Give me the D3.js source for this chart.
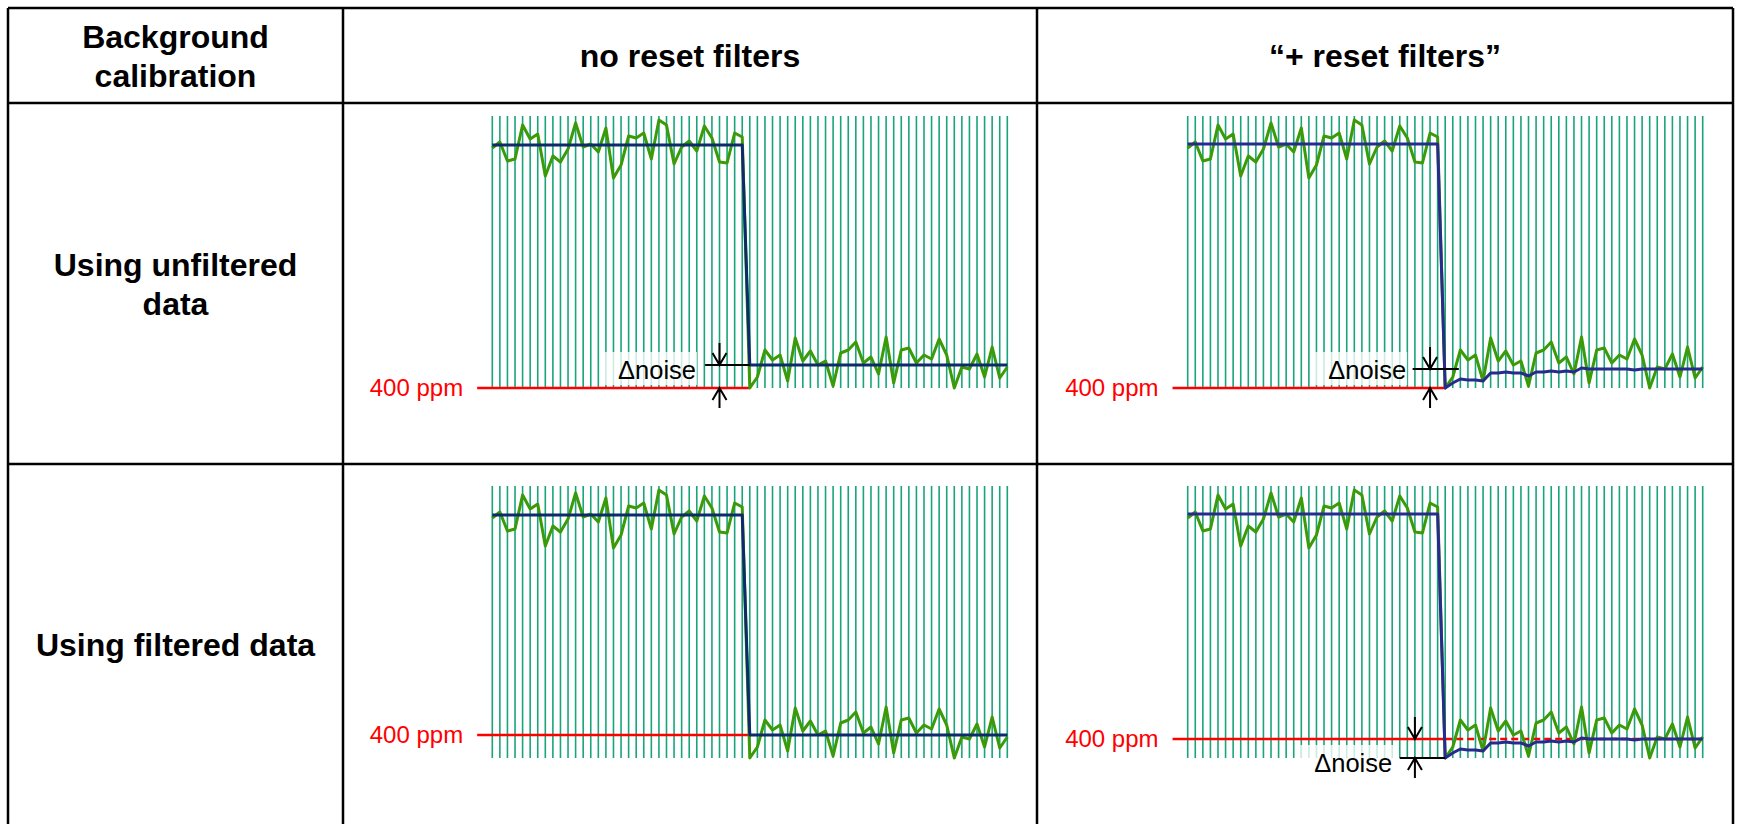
<!DOCTYPE html>
<html>
<head>
  <meta charset="utf-8">
  <title>Background calibration</title>
  <style>
    body { margin: 0; background: #fff; }
    svg text { font-family: "Liberation Sans", Arial, sans-serif; }
  </style>
</head>
<body>
  <svg id="svg" width="1738" height="824"></svg>

  <script src="https://d3js.org/d3.v7.min.js"></script>
  <script>
    // headings
    const cornerLabel = ["Background", "calibration"]
    const columnLabels = ["no reset filters", "\u201c+ reset filters\u201d"]
    const rowLabels = [["Using unfiltered", "data"], ["Using filtered data"]]
    const refLabel = "400 ppm"
    const noiseLabel = "\u0394noise"

    // raw sensor trace (ppm), one value per sample / grid line
    const rawSignal = [
      640, 646, 627, 629, 663, 649, 654, 612, 632, 626, 639, 665, 641, 644, 636, 660, 610,
      623, 652, 650, 655, 629, 668, 663, 624, 641, 647, 637, 662, 650, 626, 625, 655, 651,
      400, 411, 438, 428, 433, 407, 450, 427, 437, 423, 427, 402, 435, 438, 446, 425, 431,
      414, 451, 405, 438, 440, 425, 433, 429, 449, 433, 400, 421, 419, 434, 411, 441, 410, 421
    ]
    // calibrated output without reset filters
    const calNoReset = [
      643, 643, 643, 643, 643, 643, 643, 643, 643, 643, 643, 643, 643, 643, 643, 643, 643,
      643, 643, 643, 643, 643, 643, 643, 643, 643, 643, 643, 643, 643, 643, 643, 643, 643,
      423, 423, 423, 423, 423, 423, 423, 423, 423, 423, 423, 423, 423, 423, 423, 423, 423,
      423, 423, 423, 423, 423, 423, 423, 423, 423, 423, 423, 423, 423, 423, 423, 423, 423, 423
    ]
    // calibrated output with reset filters
    const calReset = [
      644, 644, 644, 644, 644, 644, 644, 644, 644, 644, 644, 644, 644, 644, 644, 644, 644,
      644, 644, 644, 644, 644, 644, 644, 644, 644, 644, 644, 644, 644, 644, 644, 644, 644,
      400, 405, 409, 408, 408, 407, 415, 415, 416, 415, 415, 412, 416, 416, 417, 416, 417,
      416, 420, 419, 419, 419, 419, 419, 419, 418, 419, 419, 419, 419, 419, 419, 419, 419, 419
    ]
    // where the 400 ppm reference sits in each panel [row][col]
    const refLevels = [[400, 400], [423, 419]]

    // delta-noise markers: sample positions and levels
    const noiseMarks = [
      { row: 0, col: 0, at: 30, from: 28.1, to: 34, lineLevel: 423, hi: 423, lo: 400, textAt: 26.9, textDy: -9 },
      { row: 0, col: 1, at: 32, from: 29.7, to: 35.8, lineLevel: 419, hi: 419, lo: 400, textAt: 28.85, textDy: -9 },
      { row: 1, col: 1, at: 30, from: 28, to: 34, lineLevel: 400, hi: 419, lo: 400, textAt: 27, textDy: 14 }
    ]

    const svg = d3.select("#svg")

    // ---- table ----
    const tbl = { left: 8, right: 1733, top: 8, bottom: 830 }
    const colX = [343, 1037]
    const rowY = [103, 464]

    const grid = svg.append("g").attr("stroke", "#000").attr("stroke-width", 2.5)
    grid.selectAll(".h")
      .data([tbl.top, ...rowY])
      .join("line")
      .attr("x1", tbl.left).attr("x2", tbl.right)
      .attr("y1", d => d).attr("y2", d => d)
    grid.selectAll(".v")
      .data([tbl.left, ...colX, tbl.right])
      .join("line")
      .attr("y1", tbl.top).attr("y2", tbl.bottom)
      .attr("x1", d => d).attr("x2", d => d)

    const bold = "bold 32px 'Liberation Sans', Arial, sans-serif"

    svg.append("g").selectAll("text")
      .data(cornerLabel)
      .join("text")
      .attr("x", 175.5).attr("y", (d, i) => 48 + i * 39)
      .attr("text-anchor", "middle").style("font", bold)
      .text(d => d)

    const colCenters = [(colX[0] + colX[1]) / 2, (colX[1] + tbl.right) / 2]
    svg.append("g").selectAll("text")
      .data(columnLabels)
      .join("text")
      .attr("x", (d, i) => colCenters[i]).attr("y", 67)
      .attr("text-anchor", "middle").style("font", bold)
      .text(d => d)

    const rowCenters = [(rowY[0] + rowY[1]) / 2, (rowY[1] + 824) / 2]
    rowLabels.forEach((lines, r) => {
      svg.append("g").selectAll("text")
        .data(lines)
        .join("text")
        .attr("x", 175.5)
        .attr("y", (d, i) => rowCenters[r] + 11.5 + (i - (lines.length - 1) / 2) * 39)
        .attr("text-anchor", "middle").style("font", bold)
        .text(d => d)
    })

    // ---- panels ----
    const panelX = [492.3, 1187.7]
    const panelBase = [388, 758]
    const n = rawSignal.length
    const stepIndex = rawSignal.findIndex(v => v < 500)

    for (let r = 0; r < 2; r++) {
      for (let c = 0; c < 2; c++) {
        const cal = c === 0 ? calNoReset : calReset
        const ref = refLevels[r][c]

        const x = d3.scaleLinear().domain([0, n - 1]).range([panelX[c], panelX[c] + 515])
        const y = d3.scaleLinear().domain([400, 672]).range([panelBase[r], panelBase[r] - 272])

        const g = svg.append("g")

        // sample grid
        g.append("g").selectAll("line")
          .data(d3.range(n))
          .join("line")
          .attr("x1", d => x(d)).attr("x2", d => x(d))
          .attr("y1", y(400)).attr("y2", y(672))
          .attr("stroke", "#1aa47c").attr("stroke-width", 1.6)

        // white box behind noise label
        const marks = noiseMarks.filter(m => m.row === r && m.col === c)
        marks.forEach(m => {
          const ty = y(m.lo) + m.textDy
          g.append("rect")
            .attr("x", x(m.textAt) - 92).attr("y", ty - 27)
            .attr("width", 93).attr("height", 33)
            .attr("fill", "#fff").attr("opacity", 0.78)
        })

        // 400 ppm reference
        g.append("line")
          .attr("x1", x(-2)).attr("x2", x(stepIndex))
          .attr("y1", y(ref)).attr("y2", y(ref))
          .attr("stroke", "#ff0000").attr("stroke-width", 2.4)
        if (r === 1 && c === 1) {
          g.append("line")
            .attr("x1", x(stepIndex)).attr("x2", x(n - 1))
            .attr("y1", y(ref)).attr("y2", y(ref))
            .attr("stroke", "#ff0000").attr("stroke-width", 2.4)
            .attr("stroke-dasharray", "7,4")
        }
        g.append("text")
          .attr("x", x(-2) - 14).attr("y", y(ref) + 8)
          .attr("text-anchor", "end")
          .attr("fill", "#ff0000").style("font-size", "24px")
          .text(refLabel)

        // raw trace
        const line = d3.line().x((d, i) => x(i)).y(d => y(d))
        g.append("path")
          .attr("d", line(rawSignal))
          .attr("fill", "none").attr("stroke", "#3a9a08").attr("stroke-width", 3)
          .attr("stroke-linejoin", "round")

        // calibrated trace
        g.append("path")
          .attr("d", line(cal))
          .attr("fill", "none").attr("stroke", c === 0 ? "#0f2a6a" : "#282a8e").attr("stroke-width", 3)
          .attr("stroke-linejoin", "round")

        // delta-noise markers
        marks.forEach(m => {
          const ax = x(m.at)
          const yHi = y(m.hi)
          const yLo = y(m.lo)
          const mg = g.append("g").attr("stroke", "#000").attr("stroke-width", 2).attr("fill", "none")
          mg.append("line")
            .attr("x1", x(m.from)).attr("x2", x(m.to))
            .attr("y1", y(m.lineLevel)).attr("y2", y(m.lineLevel))
          mg.append("path")
            .attr("d", `M${ax},${yHi - 22}L${ax},${yHi}M${ax - 7},${yHi - 12}L${ax},${yHi}L${ax + 7},${yHi - 12}`)
          mg.append("path")
            .attr("d", `M${ax},${yLo + 20}L${ax},${yLo}M${ax - 7},${yLo + 12}L${ax},${yLo}L${ax + 7},${yLo + 12}`)
          g.append("text")
            .attr("x", x(m.textAt)).attr("y", yLo + m.textDy)
            .attr("text-anchor", "end").style("font-size", "25.5px")
            .text(noiseLabel)
        })
      }
    }
  </script>
</body>
</html>
